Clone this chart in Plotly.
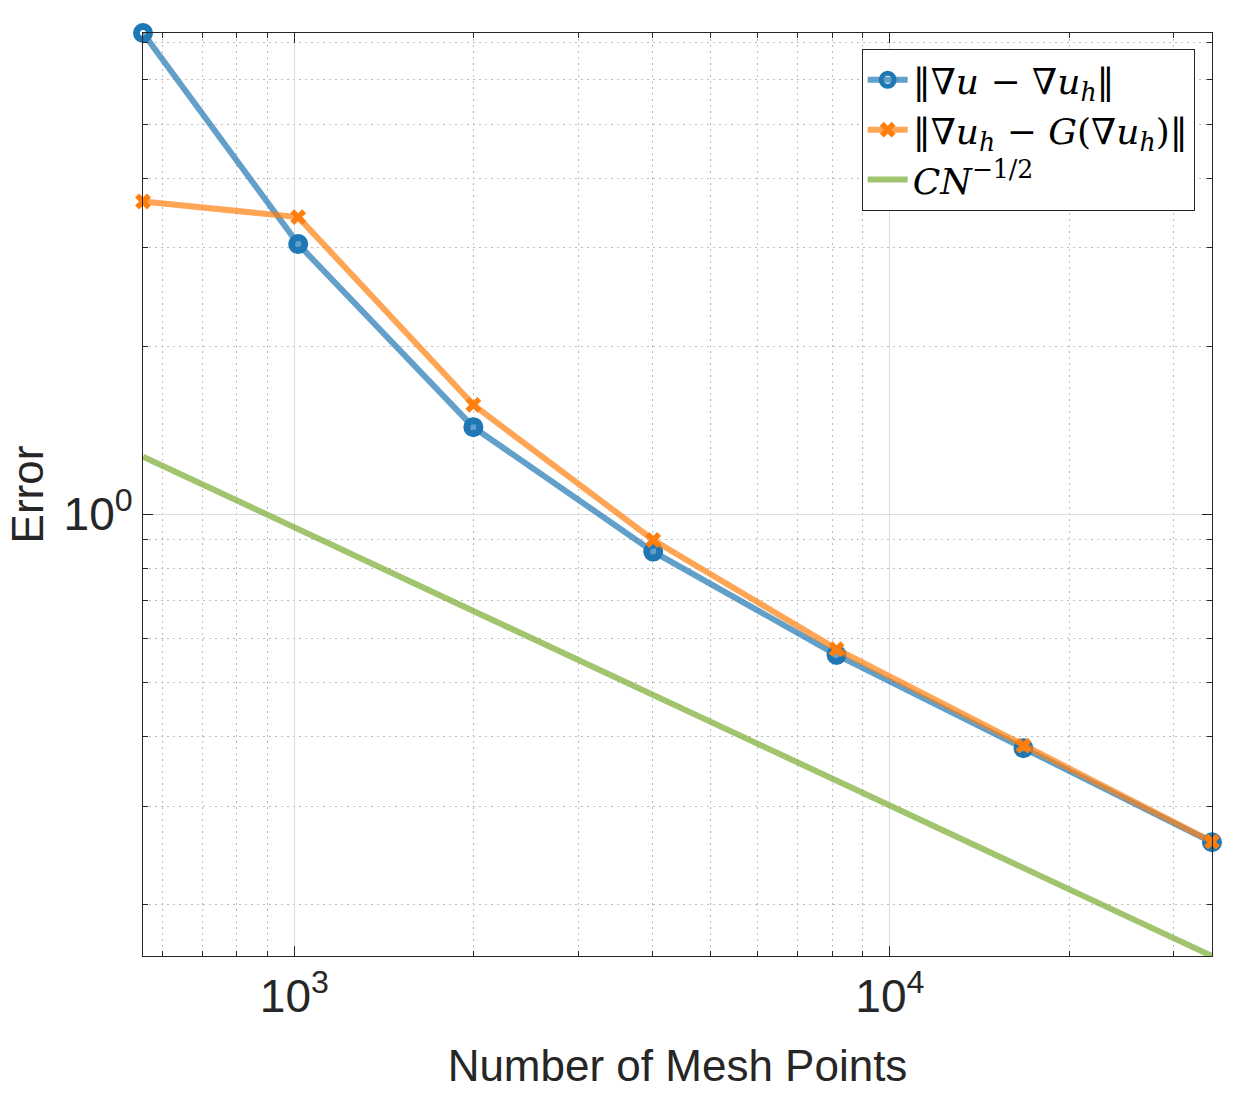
import math
import plotly.graph_objects as go

# Data
mesh_points = [557, 1015, 1998, 4005, 8138, 16765, 34750]
err_grad = [7.28, 3.047, 1.432, 0.857, 0.5596, 0.3807, 0.2584]
err_recovery = [3.633, 3.406, 1.570, 0.899, 0.573, 0.3848, 0.259]
ref_rate = [1.268, 0.940, 0.670, 0.4735, 0.332, 0.2315, 0.1616]

x_tick_vals = [1000, 10000]
x_tick_text = ["10<sup>3</sup>", "10<sup>4</sup>"]
y_tick_vals = [1]
y_tick_text = ["10<sup>0</sup>"]

legend_names = [
    "‖∇<i>u</i> − ∇<i>u</i><sub><i>h</i></sub>‖",
    "‖∇<i>u</i><sub><i>h</i></sub> − <i>G</i>(∇<i>u</i><sub><i>h</i></sub>)‖",
    "<i>CN</i><sup>−1/2</sup>",
]

TXT = "#262626"
SANS = "Liberation Sans, Arial, Helvetica, sans-serif"
SERIF = "DejaVu Serif, Liberation Serif, serif"

fig = go.Figure()
fig.add_trace(go.Scatter(
    x=mesh_points, y=err_grad, name=legend_names[0], mode="lines+markers",
    line=dict(color="rgba(31,119,180,0.7)", width=6),
    marker=dict(symbol="circle-open", size=13, color="#1f77b4",
                line=dict(width=7, color="#1f77b4")),
    cliponaxis=False,
))
fig.add_trace(go.Scatter(
    x=mesh_points, y=err_recovery, name=legend_names[1], mode="lines+markers",
    line=dict(color="rgba(255,127,14,0.7)", width=6),
    marker=dict(symbol="x", size=14, color="#ff7f0e", line=dict(width=0)),
    cliponaxis=False,
))
fig.add_trace(go.Scatter(
    x=mesh_points, y=ref_rate, name=legend_names[2], mode="lines",
    line=dict(color="rgba(119,172,48,0.7)", width=6),
))

xr = [math.log10(min(mesh_points)), math.log10(max(mesh_points))]
yr = [math.log10(min(ref_rate)), math.log10(max(err_grad))]

axis_common = dict(
    type="log", tickmode="array",
    showline=True, linecolor=TXT, linewidth=1.3, mirror="ticks",
    ticks="inside", ticklen=10, tickwidth=1.3, tickcolor=TXT,
    showgrid=True, gridcolor="#dcdcdc", gridwidth=1,
    zeroline=False,
    tickfont=dict(family=SANS, size=46, color=TXT),
    minor=dict(dtick="D1", ticks="inside", ticklen=5, tickwidth=1.2,
               tickcolor=TXT, showgrid=True, gridcolor="#bdbdbd",
               gridwidth=1, griddash="2px,4px"),
)

fig.update_xaxes(range=xr, tickvals=x_tick_vals, ticktext=x_tick_text,
                 **axis_common,
                 title=dict(text="Number of Mesh Points",
                            font=dict(family=SANS, size=44, color=TXT),
                            standoff=28))
fig.update_yaxes(range=yr, tickvals=y_tick_vals, ticktext=y_tick_text,
                 **axis_common,
                 title=dict(text="Error",
                            font=dict(family=SANS, size=44, color=TXT),
                            standoff=6))

fig.update_layout(
    width=1250, height=1094,
    margin=dict(l=143, r=38, t=33, b=138, autoexpand=False),
    paper_bgcolor="white", plot_bgcolor="white",
    showlegend=True,
    legend=dict(x=0.9838, y=0.9827, xanchor="right", yanchor="top",
                bgcolor="white", bordercolor=TXT, borderwidth=1,
                font=dict(family=SERIF, size=36, color="black"),
                tracegroupgap=0, itemwidth=40),
)

fig.write_html("out.html")
